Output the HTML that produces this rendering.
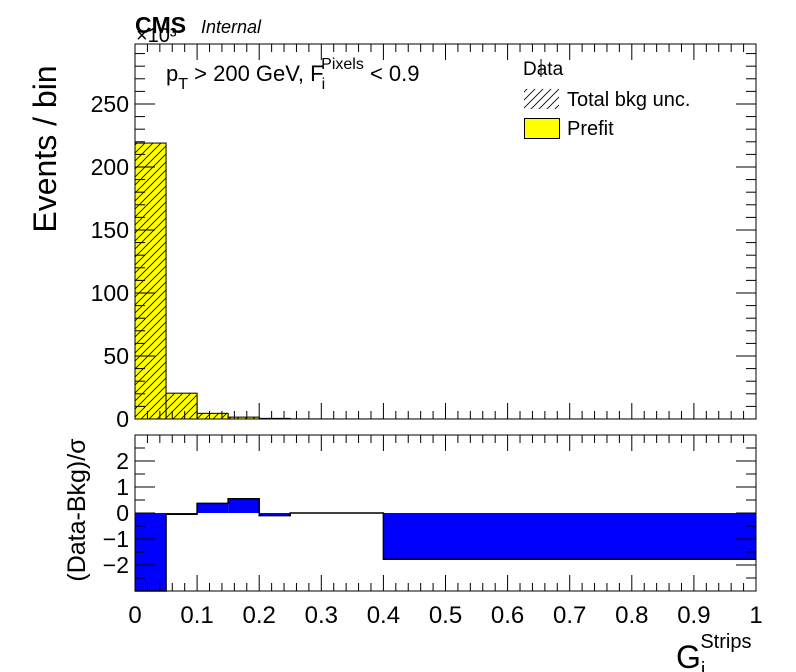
<!DOCTYPE html>
<html><head><meta charset="utf-8">
<style>
body{margin:0;background:#fff;}
svg{display:block;font-family:"Liberation Sans",sans-serif;}
</style></head>
<body>
<svg id="c" width="796" height="672" viewBox="0 0 796 672" xmlns="http://www.w3.org/2000/svg">
<defs>
<pattern id="hatch" patternUnits="userSpaceOnUse" width="8" height="8">
<path d="M-2,10 L10,-2 M-2,2 L2,-2 M6,10 L10,6" stroke="#000" stroke-width="0.8"/>
</pattern>
</defs>
<g id="main"></g>
<g id="ratio"></g>
<text x="135" y="33" font-size="23" font-weight="bold">CMS</text>
<text x="136" y="42" font-size="20">×10³</text>
<text x="201" y="33" font-size="18" font-style="italic">Internal</text>
<text x="166" y="81" font-size="22">p<tspan font-size="16" dy="8">T</tspan><tspan dy="-8"> &gt; 200 GeV, F</tspan><tspan font-size="16" dx="-2" dy="8">i</tspan><tspan font-size="16" dx="-4" dy="-20">Pixels</tspan><tspan dy="12"> &lt; 0.9</tspan></text>
<g>
<text x="523" y="75" font-size="19">Data</text>
<line x1="541" y1="59" x2="541" y2="77" stroke="#000" stroke-width="1"/>
<rect x="524" y="89" width="35" height="20" fill="url(#hatch)"/>
<text x="567" y="106" font-size="20">Total bkg unc.</text>
<rect x="524.5" y="118.5" width="35" height="20" fill="#ffff00" stroke="#000"/>
<text x="567" y="135" font-size="20">Prefit</text>
</g>
<text transform="translate(56,149) rotate(-90)" text-anchor="middle" font-size="32">Events / bin</text>
<text transform="translate(85,510) rotate(-90)" text-anchor="middle" font-size="25">(Data-Bkg)/σ</text>
<text x="676" y="668" font-size="32">G<tspan font-size="20" dy="8">i</tspan><tspan font-size="20" dx="-5" dy="-28">Strips</tspan></text>
</svg>
<script>
const binEdges=[0,0.05,0.1,0.15,0.2,0.25,0.3,0.4,1.0];
const prefitVals=[219,20.5,4.5,1.5,0.5,0.1,0.05,0.02];
const pullVals=[-3.2,-0.05,0.37,0.55,-0.1,0,0,-1.78];
const xTicks=[0,0.1,0.2,0.3,0.4,0.5,0.6,0.7,0.8,0.9,1];
const yTicks=[0,50,100,150,200,250];
const rTicks=[-2,-1,0,1,2];
const NS='http://www.w3.org/2000/svg';
const X0=135,X1=756,MT=44,MB=419,RT=435,RB=591;
const YMAX=297.6,RMIN=-3,RMAX=3;
const xs=v=>X0+(X1-X0)*v;
const ys=v=>MB-(MB-MT)*v/YMAX;
const rs=v=>RB-(RB-RT)*(Math.max(RMIN,Math.min(RMAX,v))-RMIN)/(RMAX-RMIN);
function mk(parent,tag,attrs){const e=document.createElementNS(NS,tag);for(const k in attrs)e.setAttribute(k,attrs[k]);parent.appendChild(e);return e;}
const main=document.getElementById('main'),ratio=document.getElementById('ratio');
prefitVals.forEach((v,i)=>{
 const x=xs(binEdges[i]),w=xs(binEdges[i+1])-x,y=ys(v);
 const r=mk(main,'rect',{x:x,y:y,width:w,height:MB-y,fill:'#ffff00',stroke:'#000','stroke-width':1});
 
 
 const h=mk(main,'rect',{x:x,y:y,width:w,height:MB-y,fill:'url(#hatch)'});
 
 
});
let path='';
pullVals.forEach((v,i)=>{
 const x=xs(binEdges[i]),x2=xs(binEdges[i+1]),y=rs(v),y0=rs(0);
 const r=mk(ratio,'rect',{x:x,y:Math.min(y,y0),width:x2-x,height:Math.abs(y-y0),fill:'#0000ff'});
 
 
 path+=(i==0?'M':'L')+x+','+y+' L'+x2+','+y+' ';
});
const pl=mk(ratio,'path',{d:path,fill:'none',stroke:'#000','stroke-width':1.5});


[[MT,MB],[RT,RB]].forEach(([t,b],k)=>{
 const f=mk(k?ratio:main,'rect',{x:X0,y:t,width:X1-X0,height:b-t,fill:'none',stroke:'#000','stroke-width':1});
 
 
 for(let j=0;j<=50;j++){const x=xs(j/50),L=(j%5==0)?16:8;
  mk(k?ratio:main,'line',{x1:x,y1:b,x2:x,y2:b-L,stroke:'#000'});
  mk(k?ratio:main,'line',{x1:x,y1:t,x2:x,y2:t+L,stroke:'#000'});}
});
for(let v=0;v<=YMAX;v+=10){const y=ys(v),L=(v%50==0)?20:10;
 mk(main,'line',{x1:X0,y1:y,x2:X0+L,y2:y,stroke:'#000'});
 mk(main,'line',{x1:X1,y1:y,x2:X1-L,y2:y,stroke:'#000'});}
yTicks.forEach(v=>{const t=mk(main,'text',{x:X0-6,y:ys(v)+8,'text-anchor':'end','font-size':23});t.textContent=v;
 
 });
for(let v=-3;v<=3.001;v+=0.5){const y=rs(v),L=(Math.abs(v%1)<0.01)?20:10;
 mk(ratio,'line',{x1:X0,y1:y,x2:X0+L,y2:y,stroke:'#000'});
 mk(ratio,'line',{x1:X1,y1:y,x2:X1-L,y2:y,stroke:'#000'});}
rTicks.forEach(v=>{const t=mk(ratio,'text',{x:X0-6,y:rs(v)+8,'text-anchor':'end','font-size':23});t.textContent=v<0?'\u2212'+(-v):v;
 
 });
xTicks.forEach(v=>{const t=mk(ratio,'text',{x:xs(v),y:623,'text-anchor':'middle','font-size':24});t.textContent=v;
 
 });
</script>
</body></html>
